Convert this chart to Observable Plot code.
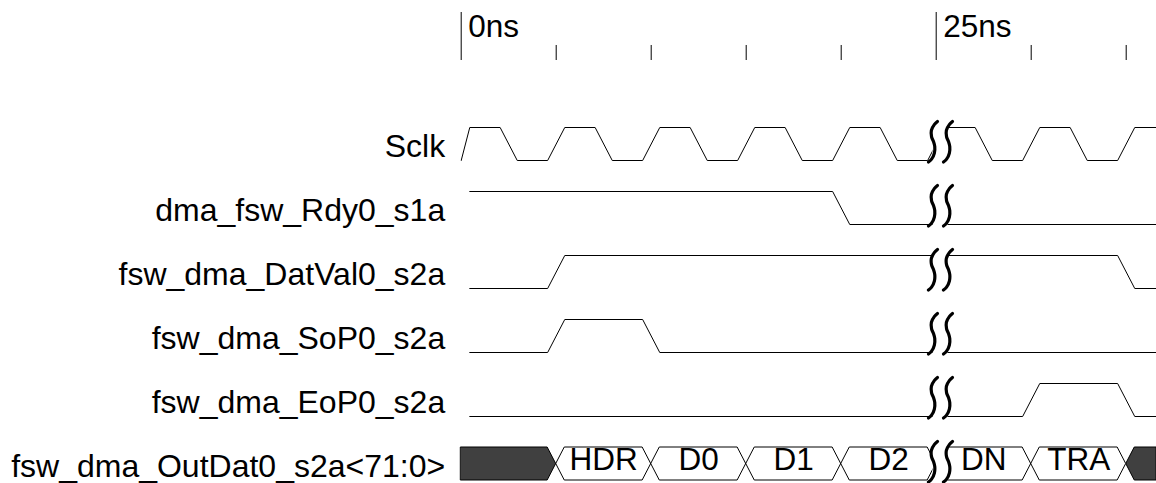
<!DOCTYPE html>
<html><head><meta charset="utf-8">
<script src="https://cdn.jsdelivr.net/npm/d3@7"></script>
<script src="https://cdn.jsdelivr.net/npm/@observablehq/plot@0.6"></script>
<style>html,body{margin:0;padding:0;background:#fff;} svg{display:block}</style>
</head><body><div id="chart"></div>
<script>
// ---- data (times in ns) ----
const signalNames = ["Sclk","dma_fsw_Rdy0_s1a","fsw_dma_DatVal0_s2a","fsw_dma_SoP0_s2a","fsw_dma_EoP0_s2a","fsw_dma_OutDat0_s2a<71:0>"];
const tickTimes = [0, 5, 10, 15, 20, 25, 30, 35];
const majorTicks = [0, 25];
const majorLabels = ["0ns", "25ns"];
const endTime = 36.6;

const sclkStart = 0,   sclkInitial = 0,   sclkEdges = [0, 2.5, 5, 7.5, 10, 12.5, 15, 17.5, 20, 22.5, 25, 27.5, 30, 32.5, 35];
const rdyStart = 0.45, rdyInitial = 1,    rdyEdges = [20];
const datValStart = 0.45, datValInitial = 0, datValEdges = [5, 35];
const sopStart = 0.45, sopInitial = 0,    sopEdges = [5, 10];
const eopStart = 0.45, eopInitial = 0,    eopEdges = [30, 35];

const busStarts = [0, 5, 10, 15, 20, 25, 30, 35];
const busEnds   = [5, 10, 15, 20, 25, 30, 35, 36.6];
const busLabels = ["", "HDR", "D0", "D1", "D2", "DN", "TRA", ""];
const busUnknown = [true, false, false, false, false, false, false, true];

const breakTimes = [24.83, 25.62];

// ---- geometry helpers (styling) ----
const AMP = 33 / 64;     // high level offset in row units
const EDGE = 0.45;       // half transition time (ns)
const PXNS = 19;         // px per ns

function wave(row, start, initial, edges) {
  const pts = [];
  let lv = initial;
  pts.push({x: start, v: lv});
  for (const e of edges) {
    pts.push({x: Math.max(e - EDGE, start), v: lv});
    lv = 1 - lv;
    pts.push({x: e + EDGE, v: lv});
  }
  pts.push({x: endTime, v: lv});
  return pts.map(p => ({x: p.x, y: row - p.v * AMP, row}));
}
const waves = [
  ...wave(0, sclkStart, sclkInitial, sclkEdges),
  ...wave(1, rdyStart, rdyInitial, rdyEdges),
  ...wave(2, datValStart, datValInitial, datValEdges),
  ...wave(3, sopStart, sopInitial, sopEdges),
  ...wave(4, eopStart, eopInitial, eopEdges)
];

const busRow = 5;
const busTop = busRow - AMP, busBot = busRow, busMid = busRow - AMP / 2;
const busPts = [];
busStarts.forEach((s, i) => {
  const e = busEnds[i];
  const left = s === 0 ? [{x: s, y1: busTop, y2: busBot}] : [{x: s, y1: busMid, y2: busMid}, {x: s + EDGE, y1: busTop, y2: busBot}];
  const right = e >= endTime ? [{x: e, y1: busTop, y2: busBot}] : [{x: e - EDGE, y1: busTop, y2: busBot}, {x: e, y1: busMid, y2: busMid}];
  for (const p of [...left, ...right]) busPts.push({...p, seg: i, unknown: busUnknown[i]});
});
const busText = busStarts.map((s, i) => ({x: (s + busEnds[i]) / 2, label: busLabels[i]})).filter(d => d.label);

const rows = signalNames.map((name, i) => ({name, row: i}));

// squiggle shape (px offsets, fraction of height)
const sqDx = [4.5, 1.5, -1.6, -1.4, 0.6, 1.8, 1.4, -1.4, -4.5];
const sqT  = [0, 0.07, 0.22, 0.38, 0.5, 0.62, 0.78, 0.93, 1];
const squiggles = [];
rows.forEach(r => {
  const top = r.row - AMP - 6 / 64, bot = r.row + 1.5 / 64;
  breakTimes.forEach((bt, k) => {
    sqDx.forEach((dx, j) => squiggles.push({x: bt + dx / PXNS, y: top + sqT[j] * (bot - top), id: r.row * 2 + k}));
  });
});

const chart = Plot.plot({
  width: 1156,
  height: 483,
  marginLeft: 0, marginRight: 0, marginTop: 0, marginBottom: 0,
  x: {domain: [-460.7 / PXNS, (1156 - 460.7) / PXNS], range: [0, 1156], axis: null},
  y: {domain: [-2.5, 5], range: [0, 480], axis: null},
  style: {fontFamily: "'Liberation Sans', Arial, Helvetica, sans-serif", background: "white", color: "black"},
  marks: [
    // time axis
    Plot.ruleX(tickTimes, {x: d => d, y1: d => majorTicks.includes(d) ? -2.3125 : -1.797, y2: () => -1.5625, stroke: "black", strokeWidth: 1}),
    Plot.text(majorTicks, {x: d => d, y: () => -2.092, text: (d, i) => majorLabels[i], textAnchor: "start", dx: 7, fontSize: 31.5, fill: "black"}),
    // signal names
    Plot.text(rows, {x: () => 0, y: d => d.row - 0.215, text: "name", textAnchor: "end", dx: -16, fontSize: 32, fill: "black"}),
    // digital waveforms
    Plot.line(waves, {x: "x", y: "y", z: "row", stroke: "black", strokeWidth: 1}),
    // bus
    Plot.areaY(busPts.filter(d => d.unknown), {x: "x", y1: "y1", y2: "y2", z: "seg", fill: "#404040", stroke: "black", strokeWidth: 1}),
    Plot.areaY(busPts.filter(d => !d.unknown), {x: "x", y1: "y1", y2: "y2", z: "seg", fill: "white", stroke: "black", strokeWidth: 1}),
    Plot.text(busText, {x: "x", y: () => 4.678, text: "label", fontSize: 31.5, fill: "black"}),
    // time break
    Plot.rect(rows, {x1: () => breakTimes[0], x2: () => breakTimes[1], y1: d => d.row - AMP - 0.08, y2: d => d.row + 0.03, fill: "white"}),
    Plot.line(squiggles, {x: "x", y: "y", z: "id", curve: "catmull-rom", stroke: "black", strokeWidth: 3.2})
  ]
});
document.getElementById("chart").appendChild(chart);
</script>
</body></html>
